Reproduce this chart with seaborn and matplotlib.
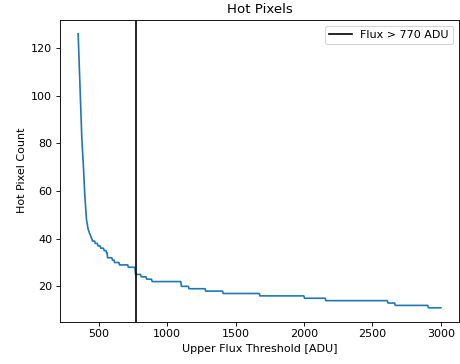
import matplotlib
matplotlib.use("Agg")
import matplotlib.pyplot as plt
import seaborn as sns
import pandas as pd

# Sampled upper flux thresholds [ADU] and the hot pixel count read at each
thresholds = [350, 377, 387, 399, 411, 423, 435, 450, 455, 470, 475, 490,
              495, 510, 515, 535, 540, 553, 558, 562, 565, 596, 601, 612,
              616, 648, 652, 712, 717, 765, 770, 806, 811, 846, 851, 886,
              891, 1100, 1105, 1155, 1160, 1277, 1282, 1405, 1410, 1673,
              1678, 1999, 2004, 2155, 2160, 2609, 2614, 2662, 2667, 2904,
              2909, 3000]
hot_counts = [126, 82, 72, 58, 48, 44, 42, 40, 39, 39, 38, 38,
              37, 37, 36, 36, 35, 35, 34, 34, 32, 32, 31, 31,
              30, 30, 29, 29, 28, 28, 25, 25, 24, 24, 23, 23,
              22, 22, 20, 20, 19, 19, 18, 18, 17, 17,
              16, 16, 15, 15, 14, 14, 13, 13, 12, 12,
              11, 11]

cut_value = 770
cut_label = "Flux > 770 ADU"
title = "Hot Pixels"
xlabel = "Upper Flux Threshold [ADU]"
ylabel = "Hot Pixel Count"

df = pd.DataFrame({"threshold": thresholds, "count": hot_counts})

dpi = 80
fig = plt.figure(figsize=(460 / dpi, 364 / dpi), dpi=dpi)
ax = fig.add_axes([60 / 460, (364 - 321.5) / 364, 399 / 460, 301.5 / 364])

sns.lineplot(data=df, x="threshold", y="count", ax=ax, color="#1f77b4",
             linewidth=1.5, estimator=None, sort=False)
ax.axvline(cut_value, color="black", linewidth=1.5, label=cut_label)

ax.set_title(title)
ax.set_xlabel(xlabel)
ax.set_ylabel(ylabel)
ax.legend(loc="upper right")

fig.savefig("out.png", dpi=dpi)
